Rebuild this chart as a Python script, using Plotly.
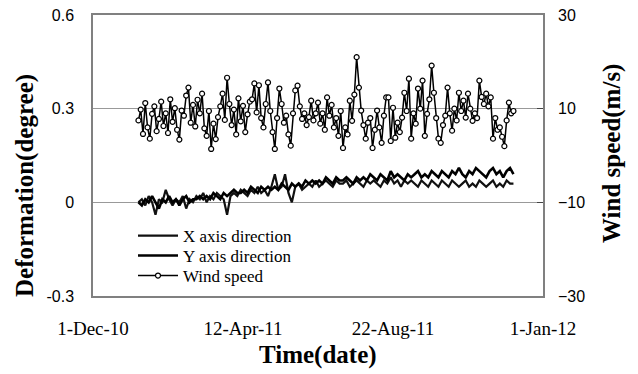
import pandas as pd
import plotly.graph_objects as go

# ---------------- data ----------------
wind_start = "2011-01-10"   # wind speed sampled every 2 days
wind_speed = [
    7.5, 9.8, 4.6, 11.2, 6.0, 3.6, 8.9, 10.5, 5.2, 7.8,
    11.5, 6.3, 9.0, 4.8, 12.0, 7.2, 10.1, 5.5, 3.4, 9.6,
    8.5, 12.8, 14.5, 7.0, 10.8, 6.2, 11.9, 9.0, 13.2, 5.8,
    4.2, 9.5, 1.4, 6.8, 3.5, 8.2, 10.5, 13.2, 7.6, 16.6,
    11.0, 6.5, 9.8, 4.5, 12.2, 7.3, 10.6, 5.0, 8.8, 11.5,
    12.0, 15.4, 9.2, 15.0, 8.0, 6.0, 11.0, 15.6, 9.5, 5.0,
    1.4, 8.0, 14.3, 11.0, 7.0, 8.5, 4.5, 2.1, 9.0, 13.9,
    14.9, 10.5, 7.8, 9.0, 6.5, 8.2, 11.7, 7.5, 9.0, 11.3,
    6.8, 9.0, 5.5, 12.4, 8.5, 10.8, 6.0, 8.0, 4.2, 9.5,
    1.6, 6.0, 4.5, 11.7, 7.4, 13.0, 21.0, 14.5, 9.6, 6.5,
    3.6, 7.0, 8.0, 1.6, 5.5, 9.6, 6.0, 2.7, 8.5, 12.4,
    12.4, 3.1, 10.2, 3.8, 7.0, 5.0, 8.1, 13.4, 9.5, 16.4,
    3.6, 9.0, 6.8, 14.3, 10.0, 16.0, 4.2, 8.9, 12.0, 19.2,
    13.4, 8.0, 3.6, 2.7, 6.5, 8.5, 14.5, 9.0, 5.3, 10.0,
    7.5, 13.4, 9.5, 11.7, 8.1, 13.2, 10.0, 7.4, 9.0, 8.0,
    16.0, 12.5, 11.0, 13.2, 10.5, 12.4, 3.6, 8.0, 5.5, 6.0,
    4.0, 2.0, 7.5, 11.3, 9.0, 9.5,
]

defo_start = "2011-01-10"   # deformation sampled every 3 days
x_direction = [
    0.00, 0.01, -0.01, 0.02, 0.00, -0.04, 0.01, 0.00, 0.04, 0.01,
    -0.01, 0.01, 0.00, 0.02, -0.02, 0.01, 0.00, 0.02, 0.01, 0.03,
    0.00, 0.02, 0.01, 0.03, 0.02, 0.01, -0.04, 0.02, 0.03, 0.02,
    0.04, 0.03, 0.02, 0.04, 0.03, 0.05, 0.03, 0.04, 0.02, 0.05,
    0.09, 0.04, 0.05, 0.09, 0.03, 0.00, 0.05, 0.06, 0.04, 0.05,
    0.06, 0.05, 0.07, 0.05, 0.06, 0.07, 0.06, 0.05, 0.07, 0.06,
    0.06, 0.07, 0.05, 0.06, 0.07, 0.06, 0.05, 0.07, 0.06, 0.07,
    0.06, 0.05, 0.07, 0.06, 0.08, 0.06, 0.07, 0.05, 0.07, 0.06,
    0.07, 0.06, 0.05, 0.07, 0.06, 0.05, 0.07, 0.06, 0.05, 0.07,
    0.06, 0.05, 0.07, 0.06, 0.05, 0.06, 0.07, 0.05, 0.06, 0.05,
    0.07, 0.06, 0.05, 0.06, 0.07, 0.05, 0.06, 0.05, 0.07, 0.06, 0.06,
]
y_direction = [
    0.00, -0.01, 0.01, 0.00, 0.02, 0.00, -0.02, 0.01, 0.00, 0.02,
    0.00, 0.01, -0.01, 0.01, 0.02, 0.00, 0.01, 0.01, 0.02, 0.01,
    0.02, 0.01, 0.03, 0.02, 0.01, 0.03, 0.02, 0.03, 0.04, 0.03,
    0.03, 0.04, 0.03, 0.05, 0.04, 0.03, 0.05, 0.04, 0.05, 0.04,
    0.05, 0.04, 0.06, 0.05, 0.04, 0.06, 0.05, 0.06, 0.05, 0.07,
    0.06, 0.07, 0.06, 0.07, 0.06, 0.08, 0.07, 0.06, 0.08, 0.07,
    0.07, 0.08, 0.07, 0.06, 0.08, 0.07, 0.08, 0.07, 0.09, 0.08,
    0.07, 0.09, 0.08, 0.07, 0.10, 0.08, 0.09, 0.08, 0.07, 0.09,
    0.08, 0.09, 0.10, 0.08, 0.09, 0.08, 0.10, 0.09, 0.08, 0.10,
    0.09, 0.08, 0.10, 0.09, 0.11, 0.09, 0.08, 0.10, 0.09, 0.11,
    0.10, 0.09, 0.08, 0.10, 0.11, 0.09, 0.10, 0.08, 0.10, 0.11, 0.09,
]

x_tick_vals = ["2010-12-01", "2011-04-12", "2011-08-22", "2012-01-01"]
x_tick_text = ["1-Dec-10", "12-Apr-11", "22-Aug-11", "1-Jan-12"]
left_ticks = [-0.3, 0, 0.3, 0.6]
left_tick_text = ["-0.3", "0", "0.3", "0.6"]
right_ticks = [-30, -10, 10, 30]

wind_dates = pd.date_range(wind_start, periods=len(wind_speed), freq="2D")
defo_dates = pd.date_range(defo_start, periods=len(x_direction), freq="3D")

SERIF = "Liberation Serif"
SANS = "Liberation Sans"

fig = go.Figure()
fig.add_trace(go.Scatter(
    x=defo_dates, y=x_direction, mode="lines", name="X axis direction",
    line=dict(color="#111111", width=2.2), legend="legend"))
fig.add_trace(go.Scatter(
    x=defo_dates, y=y_direction, mode="lines", name="Y axis direction",
    line=dict(color="#000000", width=2.6), legend="legend2"))
fig.add_trace(go.Scatter(
    x=wind_dates, y=wind_speed, mode="lines+markers", name="Wind speed",
    yaxis="y2", line=dict(color="#000000", width=1.5),
    marker=dict(symbol="circle", size=5, color="white",
                line=dict(color="black", width=1.2)), legend="legend3"))

def leg(ycenter):
    return dict(x=(133 - 93) / 450, y=(296 - ycenter) / 281, xanchor="left", yanchor="middle",
                bgcolor="rgba(0,0,0,0)", borderwidth=0,
                font=dict(family=SERIF, size=17, color="black"), itemwidth=40)

fig.update_layout(
    width=638, height=374,
    margin=dict(l=93, r=95, t=15, b=78),
    plot_bgcolor="white", paper_bgcolor="white",
    showlegend=True,
    legend=leg(236), legend2=leg(256), legend3=leg(276),
    xaxis=dict(type="date", range=["2010-12-01", "2012-01-01"],
               tickvals=x_tick_vals, ticktext=x_tick_text,
               tickfont=dict(family=SERIF, size=19, color="black"),
               showline=True, mirror=True, linecolor="#808080", linewidth=1.5,
               showgrid=False, zeroline=False, ticks="", ticklabelstandoff=14,
               automargin=False),
    yaxis=dict(range=[-0.3, 0.6], tickvals=left_ticks, ticktext=left_tick_text,
               tickfont=dict(family=SANS, size=16, color="black"),
               showline=True, mirror=True, linecolor="#808080", linewidth=1.5,
               showgrid=True, gridcolor="#999999", gridwidth=1.2,
               zeroline=False, ticks="", ticklabelstandoff=14, automargin=False),
    yaxis2=dict(range=[-30, 30], tickvals=right_ticks, overlaying="y", side="right",
                tickfont=dict(family=SANS, size=16, color="black"),
                showgrid=False, zeroline=False, showline=False,
                ticks="inside", ticklen=6, tickcolor="#444444", ticklabelstandoff=14,
                automargin=False),
)

fig.add_annotation(text="<b>Deformation(degree)</b>", xref="paper", yref="paper",
                   x=(25 - 93) / 450, y=(296 - 186) / 281, textangle=-90,
                   xanchor="center", yanchor="middle",
                   showarrow=False, font=dict(family=SERIF, size=25, color="black"))
fig.add_annotation(text="<b>Wind speed(m/s)</b>", xref="paper", yref="paper",
                   x=(612 - 93) / 450, y=(296 - 154) / 281, textangle=-90,
                   xanchor="center", yanchor="middle",
                   showarrow=False, font=dict(family=SERIF, size=25, color="black"))
fig.add_annotation(text="<b>Time(date)</b>", xref="paper", yref="paper",
                   x=(318 - 93) / 450, y=(296 - 355) / 281,
                   xanchor="center", yanchor="middle",
                   showarrow=False, font=dict(family=SERIF, size=25, color="black"))

fig.write_html("out.html")
